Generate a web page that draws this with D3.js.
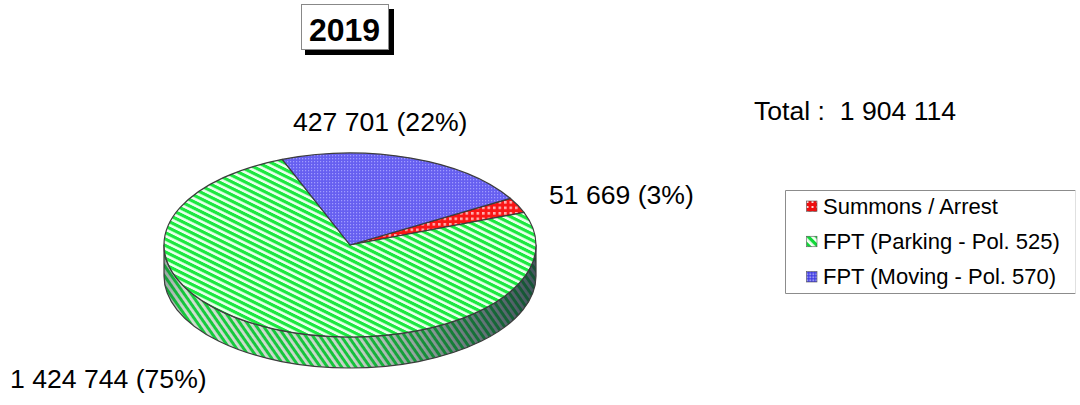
<!DOCTYPE html>
<html>
<head>
<meta charset="utf-8">
<script src="https://cdn.jsdelivr.net/npm/d3@7"></script>
<style>
  html, body { margin: 0; padding: 0; background: #fff; }
  text { font-family: "Liberation Sans", Arial, sans-serif; fill: #000; }
</style>
</head>
<body>
<svg width="1080" height="405"></svg>
<script>
var categories = ['Summons / Arrest', 'FPT (Parking - Pol. 525)', 'FPT (Moving - Pol. 570)'];
var seriesValues = [51669, 1424744, 427701];
var sliceLabels = ['51 669 (3%)', '1 424 744 (75%)', '427 701 (22%)'];
var titleText = '2019';
var totalText = 'Total :  1 904 114';

var svg = d3.select('svg');
var defs = svg.append('defs');

// pie is drawn as a circle then squashed, so patterns are defined in circle space
var cx = 350, cy = 245, rx = 186, ry = 92, depth = 31;
var squash = ry / rx;
var firstAngle = 59.5 * Math.PI / 180;

var stripes = function(id, size, transform, band, back, front) {
  var p = defs.append('pattern')
    .attr('id', id)
    .attr('patternUnits', 'userSpaceOnUse')
    .attr('width', size)
    .attr('height', size)
    .attr('patternTransform', transform);
  p.append('rect').attr('width', size).attr('height', size).attr('fill', back);
  p.append('rect').attr('width', size).attr('height', band).attr('fill', front);
};

var dots = function(id, size, dot, back, front, transform) {
  var p = defs.append('pattern')
    .attr('id', id)
    .attr('patternUnits', 'userSpaceOnUse')
    .attr('width', size)
    .attr('height', size)
    .attr('patternTransform', transform);
  p.append('rect').attr('width', size).attr('height', size).attr('fill', back);
  p.append('rect').attr('width', dot).attr('height', dot).attr('fill', front);
};

var undoSquash = 'scale(1,' + (rx / ry) + ')';

stripes('hatchGreen', 9.2, 'rotate(45)', 5, '#eaffec', '#1ae840');
stripes('hatchWall', 5.8, undoSquash + ' rotate(55)', 3, '#d4dcd4', '#18cc3c');
stripes('hatchSwatch', 6, 'rotate(45)', 3.2, '#f4fff4', '#10d838');
dots('dotsBlueTop', 3, 1.2, '#665ef0', '#a4a0ff', undoSquash);
dots('dotsRedTop', 5.5, 2.6, '#fa1212', '#ffb0b0', undoSquash);
dots('dotsBlue', 3, 1.5, '#3a36e0', '#e0e0ff', '');
dots('dotsRed', 5, 2, '#ee1010', '#ffd8d8', '');

// right side of the wall falls into shadow
var shade = defs.append('linearGradient')
  .attr('id', 'wallShade')
  .attr('gradientUnits', 'userSpaceOnUse')
  .attr('x1', -rx).attr('x2', rx).attr('y1', 0).attr('y2', 0);
shade.append('stop').attr('offset', 0).attr('stop-color', '#123').attr('stop-opacity', 0.3);
shade.append('stop').attr('offset', 0.06).attr('stop-color', '#123').attr('stop-opacity', 0);
shade.append('stop').attr('offset', 0.5).attr('stop-color', '#123').attr('stop-opacity', 0.05);
shade.append('stop').attr('offset', 0.8).attr('stop-color', '#123').attr('stop-opacity', 0.5);
shade.append('stop').attr('offset', 1).attr('stop-color', '#123').attr('stop-opacity', 0.72);

// the source is a soft scan, take the edge off the hatching
defs.append('filter').attr('id', 'soft')
  .attr('x', '-5%').attr('y', '-5%').attr('width', '110%').attr('height', '110%')
  .append('feGaussianBlur').attr('stdDeviation', '0.55 0.3');

var sliceFills = ['url(#dotsRedTop)', 'url(#hatchGreen)', 'url(#dotsBlueTop)'];
var swatchFills = ['url(#dotsRed)', 'url(#hatchSwatch)', 'url(#dotsBlue)'];

var pie = d3.pie().sort(null).startAngle(firstAngle).endAngle(firstAngle + 2 * Math.PI);
var arc = d3.arc().innerRadius(0).outerRadius(rx);
var slices = pie(seriesValues);

var chart = svg.append('g')
  .attr('transform', 'translate(' + cx + ',' + cy + ') scale(1,' + squash + ')')
  .attr('filter', 'url(#soft)');

// front wall of the disc, right edge round to left edge
var wallDrop = depth / squash;
var wall = d3.path();
wall.arc(0, 0, rx, 0, Math.PI, false);
wall.lineTo(-rx, wallDrop);
wall.arc(0, wallDrop, rx, Math.PI, 0, true);
wall.closePath();

var outline = function(sel) {
  sel.attr('stroke', '#3c3c3c')
     .attr('stroke-width', 1.2)
     .attr('stroke-linejoin', 'round')
     .attr('vector-effect', 'non-scaling-stroke');
};

chart.append('path').attr('d', wall.toString()).attr('fill', 'url(#hatchWall)');
chart.append('path').attr('d', wall.toString()).attr('fill', 'url(#wallShade)').call(outline);

chart.selectAll('path.slice')
  .data(slices)
  .enter().append('path')
    .attr('class', 'slice')
    .attr('d', arc)
    .attr('fill', function(d, i) { return sliceFills[i]; })
    .call(outline);

// title box with its drop shadow
svg.append('rect').attr('x', 305).attr('y', 9).attr('width', 89).attr('height', 46).attr('fill', '#000');
svg.append('rect').attr('x', 301.5).attr('y', 4.5).attr('width', 87).attr('height', 45)
  .attr('fill', '#fff').attr('stroke', '#888').attr('stroke-width', 1);
svg.append('text').attr('x', 344.5).attr('y', 41).attr('text-anchor', 'middle')
  .attr('font-size', 32).attr('font-weight', 'bold').text(titleText);

// slice labels
var labelPos = [[549, 204], [10, 388], [293, 131]];
svg.selectAll('text.label')
  .data(sliceLabels)
  .enter().append('text')
    .attr('class', 'label')
    .attr('x', function(d, i) { return labelPos[i][0]; })
    .attr('y', function(d, i) { return labelPos[i][1]; })
    .attr('font-size', 26.6)
    .text(function(d) { return d; });

svg.append('text').attr('x', 754).attr('y', 120).attr('font-size', 26.6)
  .style('white-space', 'pre').text(totalText);

// legend, right edge of the box is very faint in the source
svg.append('path').attr('d', 'M1075.5,190.5H785.5V293.5H1075.5')
  .attr('fill', 'none').attr('stroke', '#8c8c8c').attr('stroke-width', 1);
svg.append('path').attr('d', 'M1075.5,190.5V293.5')
  .attr('fill', 'none').attr('stroke', '#e0e0e0').attr('stroke-width', 1);

var legendY = d3.scalePoint().domain(categories).range([206, 276.5]);
var legend = svg.selectAll('g.legend')
  .data(categories)
  .enter().append('g')
    .attr('class', 'legend')
    .attr('transform', function(d) { return 'translate(806.5,' + legendY(d) + ')'; });

legend.append('rect')
  .attr('y', -5).attr('width', 10.5).attr('height', 10.5)
  .attr('fill', function(d, i) { return swatchFills[i]; })
  .attr('stroke', '#555').attr('stroke-width', 0.6);

legend.append('text')
  .attr('x', 16.5).attr('y', 7.5)
  .attr('font-size', 22)
  .text(function(d) { return d; });
</script>
</body>
</html>
